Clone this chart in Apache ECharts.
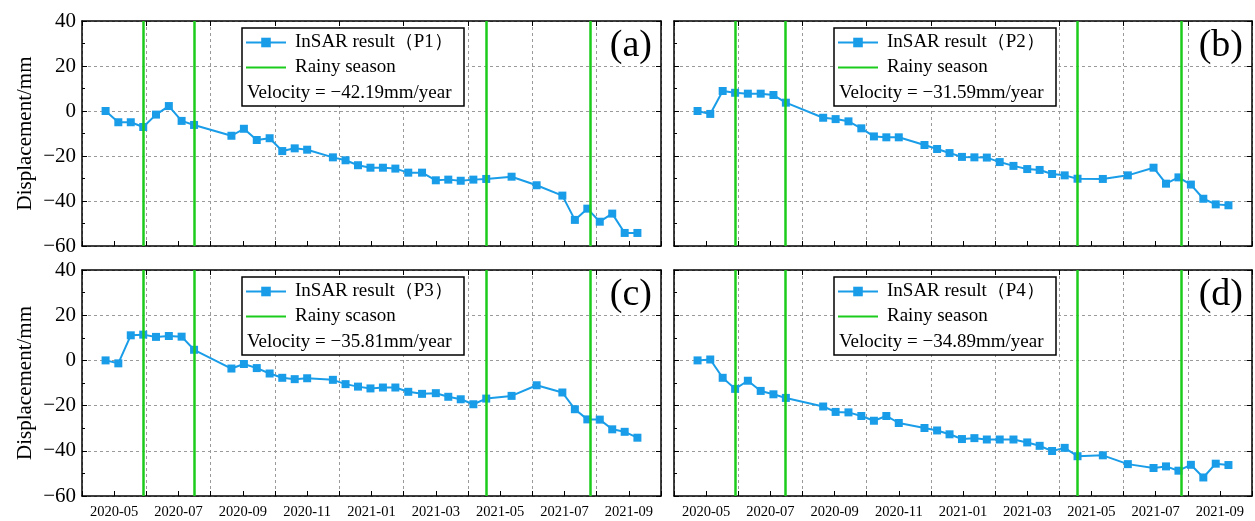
<!DOCTYPE html>
<html><head><meta charset="utf-8">
<script src="https://cdn.jsdelivr.net/npm/echarts@6/dist/echarts.min.js"></script>
<style>html,body{margin:0;padding:0;background:#fff}#c{width:1255px;height:521px}</style>
</head><body><div id="c"></div>
<script>
// acquisition dates (Sentinel-1, 12-day revisit)
const dates = ['2020-04-23','2020-05-05','2020-05-17','2020-05-29','2020-06-10','2020-06-22','2020-07-04','2020-07-16',
  '2020-08-21','2020-09-02','2020-09-14','2020-09-26','2020-10-08','2020-10-20','2020-11-01',
  '2020-11-25','2020-12-07','2020-12-19','2020-12-31','2021-01-12','2021-01-24','2021-02-05','2021-02-17',
  '2021-03-01','2021-03-13','2021-03-25','2021-04-06','2021-04-18','2021-05-12','2021-06-05','2021-06-29',
  '2021-07-11','2021-07-23','2021-08-04','2021-08-16','2021-08-28','2021-09-09'];
const p1 = [0,-5.0,-5.0,-7.1,-1.6,2.2,-4.4,-6.2,-11.0,-7.9,-12.9,-12.1,-17.8,-16.6,-17.2,-20.6,-21.9,-24.1,-25.2,-25.2,-25.6,-27.4,-27.4,-30.8,-30.5,-31.0,-30.5,-30.2,-29.2,-33.0,-37.6,-48.4,-43.4,-49.2,-45.6,-54.2,-54.2];
const p2 = [0,-1.3,8.9,8.1,7.7,7.7,7.1,3.7,-3.0,-3.6,-4.6,-7.7,-11.3,-11.7,-11.7,-15.1,-16.9,-18.7,-20.4,-20.6,-20.7,-22.7,-24.4,-25.8,-26.2,-28.0,-28.6,-30.1,-30.2,-28.6,-25.2,-32.3,-29.5,-32.7,-39.0,-41.5,-41.9];
const p3 = [0,-1.3,11.1,11.4,10.4,10.8,10.5,4.7,-3.6,-1.6,-3.4,-5.8,-7.7,-8.3,-7.9,-8.6,-10.5,-11.6,-12.4,-12.0,-12.0,-13.9,-14.8,-14.5,-16.1,-17.2,-19.4,-16.9,-15.7,-11.0,-14.2,-21.6,-26.1,-26.2,-30.5,-31.6,-34.2];
const p4 = [0,0.4,-7.7,-12.6,-9.0,-13.5,-15.0,-16.6,-20.4,-22.8,-23.0,-24.6,-26.7,-24.6,-27.7,-29.9,-31.0,-32.7,-34.8,-34.4,-35.0,-35.0,-35.0,-36.3,-37.8,-40.1,-38.7,-42.4,-42.0,-45.9,-47.6,-46.9,-48.8,-46.2,-51.8,-45.7,-46.3];
const rainyDates = ['2020-05-29','2020-07-16','2021-04-18','2021-07-26'];
const seriesNames = ['InSAR result（P1）','InSAR result（P2）','InSAR result（P3）','InSAR result（P4）'];
const rainyNames = ['Rainy season','Rainy season','Rainy scason','Rainy season'];
const velocityTexts = ['Velocity = −42.19mm/year','Velocity = −31.59mm/year','Velocity = −35.81mm/year','Velocity = −34.89mm/year'];
const panelLabels = ['(a)','(b)','(c)','(d)'];
const yName = 'Displacement/mm';
const yMin = -60, yMax = 40, yStep = 20;
const xStartMonth = '2020-04', xEndMonth = '2021-10';

const values = [p1,p2,p3,p4];
const FONT = '"Liberation Serif","Times New Roman",serif';
const BLUE = '#1a9de8', GREEN = '#1ccc1c';

function monthPos(s){
  const a = s.split('-').map(Number);
  const y = a[0], m = a[1], d = a[2] || 1;
  const dim = new Date(y, m, 0).getDate();
  return (y-2020)*12 + (m-1) + (d-1)/dim;
}
const xMin = monthPos(xStartMonth), xMax = monthPos(xEndMonth);
function fmtMonth(v){
  const vi = Math.round(v);
  if (vi % 2 !== 0) return '';
  const y = 2020 + Math.floor(vi/12), m = vi % 12 + 1;
  return y + '-' + (m < 10 ? '0' + m : m);
}

const layout = [
  {left:82, top:21, width:579, height:225},
  {left:674, top:21, width:578, height:225},
  {left:82, top:270, width:579, height:226},
  {left:674, top:270, width:578, height:226}
];

const grid = [], xAxis = [], yAxis = [], series = [], legend = [], title = [], graphic = [];
const axisLineStyle = {color:'#000', width:1.5};
const dashStyle = {color:'#9a9a9a', width:1, type:[3,3]};

layout.forEach((g, i) => {
  grid.push(Object.assign({outerBoundsMode:'none', containLabel:false}, g));
  xAxis.push({
    gridIndex:i, type:'value', min:xMin, max:xMax, interval:1, position:'bottom',
    axisLine:{show:true, lineStyle:axisLineStyle, onZero:false},
    axisTick:{show:true, inside:true, length:5, lineStyle:{color:'#000', width:1}},
    axisLabel:{show:i>=2, formatter:fmtMonth, fontSize:14.5, fontFamily:FONT, color:'#000', margin:9, showMinLabel:true, showMaxLabel:true},
    splitLine:{show:false}
  });
  xAxis.push({
    gridIndex:i, type:'value', min:0, max:xMax-xMin, interval:2, position:'top',
    axisLine:{show:true, lineStyle:axisLineStyle, onZero:false},
    axisTick:{show:true, inside:true, length:5, lineStyle:{color:'#000', width:1}},
    axisLabel:{show:false},
    splitLine:{show:true, lineStyle:dashStyle}
  });
  yAxis.push({
    gridIndex:i, type:'value', min:yMin, max:yMax, interval:yStep, position:'left',
    name: (i % 2 === 0) ? yName : '', nameLocation:'middle', nameGap:46,
    nameTextStyle:{fontSize:21, fontFamily:FONT, color:'#000'},
    axisLine:{show:true, lineStyle:axisLineStyle, onZero:false},
    axisTick:{show:true, inside:true, length:5, lineStyle:{color:'#000', width:1}},
    minorTick:{show:true, splitNumber:2, length:3, lineStyle:{color:'#000', width:1}},
    axisLabel:{show:i % 2 === 0, fontSize:21, fontFamily:FONT, color:'#000', margin:6,
      formatter:v => (v < 0 ? '−' + Math.abs(v) : '' + v)},
    splitLine:{show:true, lineStyle:dashStyle}
  });
  yAxis.push({
    gridIndex:i, type:'value', min:yMin, max:yMax, interval:yStep, position:'right',
    axisLine:{show:true, lineStyle:axisLineStyle, onZero:false},
    axisTick:{show:true, inside:true, length:5, lineStyle:{color:'#000', width:1}},
    axisLabel:{show:false}, splitLine:{show:false}
  });
  series.push({
    type:'line', name:seriesNames[i], xAxisIndex:2*i, yAxisIndex:2*i,
    data: dates.map((d, j) => [monthPos(d), values[i][j]]),
    symbol:'rect', symbolSize:8, showSymbol:true,
    lineStyle:{color:BLUE, width:2}, itemStyle:{color:BLUE}, z:4, animation:false
  });
  series.push({
    type:'line', name:rainyNames[i], xAxisIndex:2*i, yAxisIndex:2*i, data:[],
    symbol:'none', lineStyle:{color:GREEN, width:2.5}, itemStyle:{color:GREEN}, z:3, animation:false,
    markLine:{silent:true, symbol:['none','none'], label:{show:false}, animation:false,
      lineStyle:{color:GREEN, width:2.5, type:'solid'},
      data: rainyDates.map(d => ({xAxis: monthPos(d)}))}
  });
  graphic.push({
    type:'rect', z:20,
    shape:{x:g.left+160, y:g.top+7, width:222, height:78},
    style:{fill:'#fff', stroke:'#000', lineWidth:1.5}
  });
  legend.push({
    data:[{name:seriesNames[i]}, {name:rainyNames[i], itemStyle:{opacity:0}}],
    orient:'vertical', left:g.left+163, top:g.top+12,
    itemWidth:40, itemHeight:12, itemGap:6, padding:0, z:30, selectedMode:false,
    textStyle:{fontSize:19, fontFamily:FONT, color:'#000', padding:[0,0,0,4]}
  });
  title.push({
    text:velocityTexts[i], left:g.left+165, top:g.top+63, padding:0, z:30,
    textStyle:{fontSize:19, fontWeight:'normal', fontFamily:FONT, color:'#000'}
  });
  title.push({
    text:panelLabels[i], right:1255-(g.left+g.width)+9, top:g.top+6, padding:0, z:30,
    textStyle:{fontSize:38, fontWeight:'normal', fontFamily:FONT, color:'#000'}
  });
});

const chart = echarts.init(document.getElementById('c'), null, {renderer:'canvas'});
chart.setOption({
  animation:false, backgroundColor:'#fff',
  grid, xAxis, yAxis, series, legend, title, graphic
});
</script>
</body></html>
